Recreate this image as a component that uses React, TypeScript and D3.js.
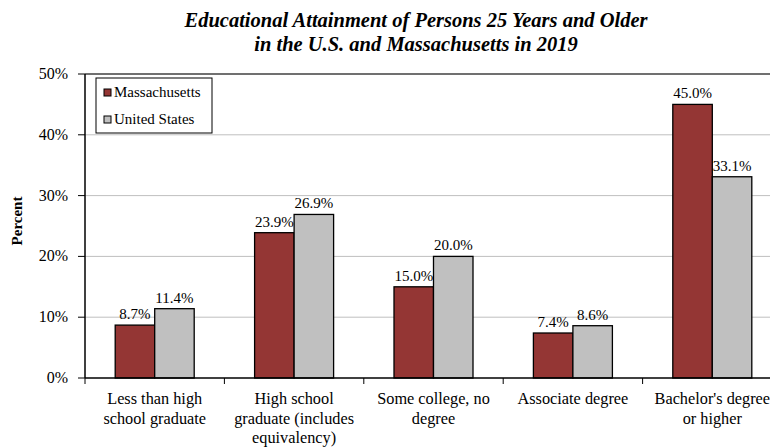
import React from "react";
import * as d3 from "d3";

const categories = [
  ["Less than high", "school graduate"],
  ["High school", "graduate (includes", "equivalency)"],
  ["Some college, no", "degree"],
  ["Associate degree"],
  ["Bachelor's degree", "or higher"],
];
const massachusetts = [8.7, 23.9, 15.0, 7.4, 45.0];
const unitedStates = [11.4, 26.9, 20.0, 8.6, 33.1];
const seriesNames = ["Massachusetts", "United States"];
const yTicks = [0, 10, 20, 30, 40, 50];
const titleLines = [
  "Educational Attainment of Persons 25 Years and Older",
  "in the U.S. and Massachusetts in 2019",
];

const W = 770;
const H = 447;
const left = 85;
const right = 782;
const top = 74;
const bottom = 378;
const colors = ["#943634", "#C0C0C0"];
const F = "Liberation Serif";

export default function App() {
  const x = d3
    .scaleBand<number>()
    .domain(d3.range(categories.length))
    .range([left, right])
    .paddingInner(0)
    .paddingOuter(0);
  const y = d3.scaleLinear().domain([0, 50]).range([bottom, top]);
  const bw = 39.5;
  const series = [massachusetts, unitedStates];

  return (
    <svg
      width={W}
      height={H}
      style={{ position: "absolute", left: 0, top: 0, background: "#fff" }}
    >
      {titleLines.map((t, i) => (
        <text
          key={i}
          x={416}
          y={27 + i * 24}
          textAnchor="middle"
          fontSize={20.5}
          fontWeight="bold"
          fontStyle="italic"
          fontFamily={F}
        >
          {t}
        </text>
      ))}
      {yTicks.slice(1, -1).map((t) => (
        <line
          key={t}
          x1={left}
          x2={W}
          y1={y(t)}
          y2={y(t)}
          stroke="#BFBFBF"
          strokeWidth={1}
        />
      ))}
      <line x1={left} x2={W} y1={y(50)} y2={y(50)} stroke="#404040" strokeWidth={1.5} />
      {series.map((vals, s) =>
        vals.map((v, i) => {
          const bx = x(i)! + x.bandwidth() / 2 - bw + s * bw;
          return (
            <g key={`${s}-${i}`}>
              <rect
                x={bx}
                y={y(v)}
                width={bw}
                height={bottom - y(v)}
                fill={colors[s]}
                stroke="#000"
                strokeWidth={1.3}
              />
              <text
                x={bx + bw / 2}
                y={y(v) - 6}
                textAnchor="middle"
                fontSize={15}
                fontFamily={F}
              >
                {v.toFixed(1) + "%"}
              </text>
            </g>
          );
        })
      )}
      <line x1={left} x2={left} y1={top} y2={bottom} stroke="#000" strokeWidth={1.5} />
      <line x1={left} x2={W} y1={bottom} y2={bottom} stroke="#000" strokeWidth={1.5} />
      {yTicks.map((t) => (
        <g key={t}>
          <line x1={left - 7} x2={left} y1={y(t)} y2={y(t)} stroke="#000" strokeWidth={1} />
          <text x={68} y={y(t) + 5} textAnchor="end" fontSize={16} fontFamily={F}>
            {t + "%"}
          </text>
        </g>
      ))}
      {categories.map((_, i) => (
        <line
          key={i}
          x1={x(i)!}
          x2={x(i)!}
          y1={bottom}
          y2={bottom + 6}
          stroke="#000"
          strokeWidth={1}
        />
      ))}
      {categories.map((lines, i) =>
        lines.map((l, j) => (
          <text
            key={`${i}-${j}`}
            x={x(i)! + x.bandwidth() / 2}
            y={404 + j * 19.5}
            textAnchor="middle"
            fontSize={16.3}
            fontFamily={F}
          >
            {l}
          </text>
        ))
      )}
      <text
        transform={`translate(22,${221}) rotate(-90)`}
        textAnchor="middle"
        fontSize={15}
        fontWeight="bold"
        fontFamily={F}
      >
        Percent
      </text>
      <rect x={96} y={78} width={116} height={55} fill="#fff" stroke="#000" strokeWidth={1} />
      {seriesNames.map((n, i) => (
        <g key={n}>
          <rect
            x={104}
            y={89 + i * 27}
            width={7}
            height={7}
            fill={colors[i]}
            stroke="#000"
            strokeWidth={1}
          />
          <text x={114} y={97 + i * 27} fontSize={15} fontFamily={F}>
            {n}
          </text>
        </g>
      ))}
    </svg>
  );
}
